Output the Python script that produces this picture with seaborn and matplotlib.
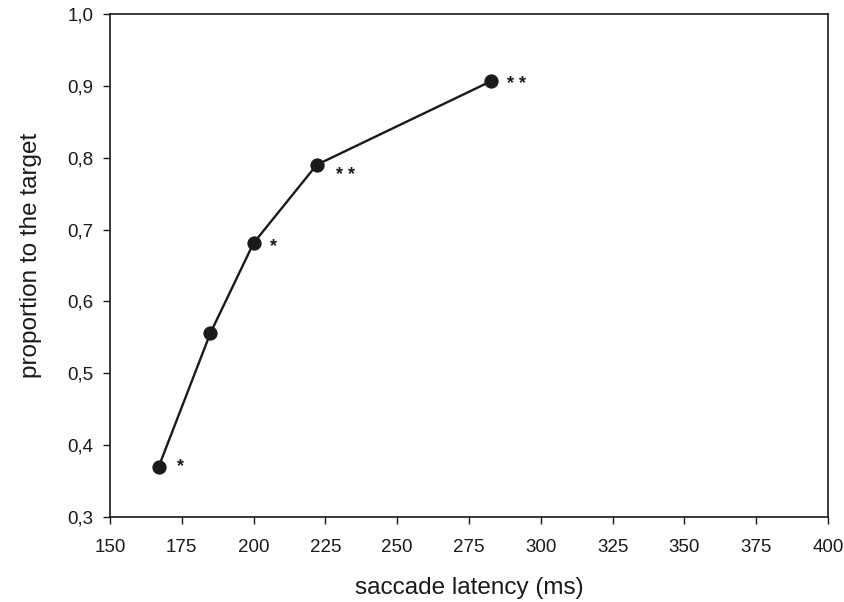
import numpy as np
import pandas as pd
import seaborn as sns
import matplotlib.pyplot as plt

# values
latency = [167, 185, 200, 222, 282.5]
proportion = [0.37, 0.556, 0.681, 0.79, 0.906]
stars = ['*', '', '*', '**', '**']
x_ticks = list(range(150, 401, 25))
y_ticks = [0.3, 0.4, 0.5, 0.6, 0.7, 0.8, 0.9, 1.0]

# star offsets from the point, in points
star_off = [(13, 0.5), (0, 0), (12, -2.5), (14, -7.5), (12, -2.5)]

df = pd.DataFrame({'latency': latency, 'proportion': proportion})

sns.set_theme(style='ticks')
plt.rcParams['font.family'] = ['Liberation Sans', 'DejaVu Sans']

fig = plt.figure(figsize=(8.45, 6.02), dpi=100)
ax = fig.add_axes([0.130, 0.141, 0.850, 0.836])

sns.lineplot(data=df, x='latency', y='proportion', ax=ax, color='#1a1a1a',
             linewidth=1.7, marker='o', markersize=9.5, markeredgecolor='#1a1a1a',
             markerfacecolor='#1a1a1a')

for x, y, s, off in zip(latency, proportion, stars, star_off):
    if s:
        ax.annotate(' '.join(s), xy=(x, y), xytext=off, textcoords='offset points',
                    fontsize=13, fontweight='bold', ha='left', va='center',
                    color='#1a1a1a')

ax.set_xlim(150, 400)
ax.set_ylim(0.3, 1.0)
ax.set_xticks(x_ticks)
ax.set_yticks(y_ticks)
ax.set_yticklabels([f'{v:.1f}'.replace('.', ',') for v in y_ticks])
ax.tick_params(direction='out', length=5, width=1, labelsize=13.5, colors='#1a1a1a', pad=7)
ax.tick_params(axis='x', pad=11)
for sp in ax.spines.values():
    sp.set_visible(True)
    sp.set_color('#1a1a1a')
    sp.set_linewidth(1.2)

ax.set_xlabel('saccade latency (ms)', fontsize=17.5, labelpad=15, color='#1a1a1a')
ax.set_ylabel('proportion to the target', fontsize=17.5, color='#1a1a1a')
ax.yaxis.set_label_coords(-0.095, 0.521)

fig.savefig('out.png', dpi=100)
